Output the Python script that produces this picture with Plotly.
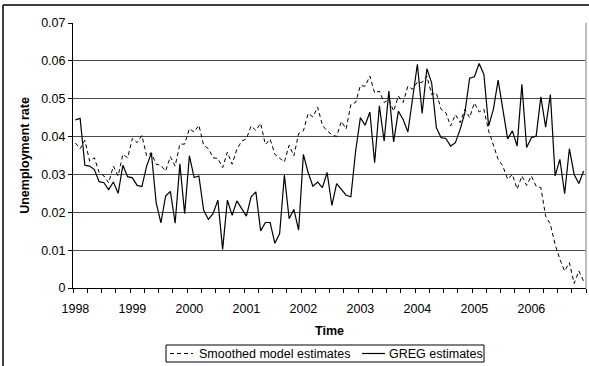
import plotly.graph_objects as go

# Monthly estimates, January 1998 - December 2006
years = [1998, 1999, 2000, 2001, 2002, 2003, 2004, 2005, 2006]
months = list(range(108))

smoothed = [
    0.0383, 0.0368, 0.0390, 0.0335, 0.0344, 0.0305, 0.0296, 0.0278, 0.0322, 0.0296,
    0.0353, 0.0344, 0.0395, 0.0384, 0.0403, 0.0349, 0.0357, 0.0327, 0.0324, 0.0309,
    0.0347, 0.0322, 0.0380, 0.0380, 0.0421, 0.0412, 0.0430, 0.0377, 0.0368, 0.0344,
    0.0342, 0.0318, 0.0359, 0.0327, 0.0366, 0.0388, 0.0394, 0.0428, 0.0416, 0.0435,
    0.0379, 0.0393, 0.0353, 0.0344, 0.0333, 0.0377, 0.0349, 0.0408, 0.0415, 0.0461,
    0.0452, 0.0478, 0.0430, 0.0415, 0.0405, 0.0400, 0.0440, 0.0420, 0.0485, 0.0490,
    0.0535, 0.0533, 0.0560, 0.0515, 0.0520, 0.0490, 0.0498, 0.0467, 0.0507, 0.0490,
    0.0533, 0.0525, 0.0544, 0.0543, 0.0560, 0.0511, 0.0515, 0.0472, 0.0463, 0.0428,
    0.0458, 0.0437, 0.0472, 0.0450, 0.0489, 0.0465, 0.0472, 0.0415, 0.0375, 0.0340,
    0.0322, 0.0287, 0.0300, 0.0261, 0.0296, 0.0271, 0.0296, 0.0269, 0.0265, 0.0190,
    0.0168, 0.0115, 0.0076, 0.0045, 0.0067, 0.0012, 0.0045, 0.0018,
]

greg = [
    0.0444, 0.0448, 0.0324, 0.0322, 0.0313, 0.0281, 0.0278, 0.0260, 0.0280, 0.0250,
    0.0324, 0.0294, 0.0291, 0.0271, 0.0268, 0.0322, 0.0357, 0.0226, 0.0172, 0.0243,
    0.0255, 0.0171, 0.0328, 0.0196, 0.0349, 0.0292, 0.0296, 0.0206, 0.0181, 0.0197,
    0.0232, 0.0102, 0.0232, 0.0192, 0.0230, 0.0210, 0.0190, 0.0241, 0.0254, 0.0151,
    0.0173, 0.0173, 0.0118, 0.0144, 0.0298, 0.0183, 0.0208, 0.0153, 0.0353, 0.0305,
    0.0269, 0.0280, 0.0265, 0.0305, 0.0218, 0.0276, 0.0259, 0.0245, 0.0241, 0.0362,
    0.0450, 0.0430, 0.0465, 0.0331, 0.0481, 0.0388, 0.0520, 0.0386, 0.0467, 0.0445,
    0.0412, 0.0498, 0.0591, 0.0461, 0.0579, 0.0542, 0.0423, 0.0397, 0.0395, 0.0375,
    0.0384, 0.0419, 0.0463, 0.0554, 0.0558, 0.0593, 0.0564, 0.0428, 0.0472, 0.0549,
    0.0472, 0.0394, 0.0415, 0.0375, 0.0538, 0.0371, 0.0397, 0.0401, 0.0505, 0.0425,
    0.0511, 0.0296, 0.0340, 0.0249, 0.0368, 0.0300, 0.0276, 0.0309,
]

series_names = ["Smoothed model estimates", "GREG estimates"]

FONT = "Liberation Sans, Arial, sans-serif"
W, H = 589, 366
ML, MR, MT, MB = 73, 3, 23, 78
PW, PH = W - ML - MR, H - MT - MB
DASH = "4px,3px"


def px(x):
    return (x - ML) / PW


def py(y):
    return (H - MB - y) / PH


fig = go.Figure()
fig.add_trace(go.Scatter(
    x=months, y=smoothed, mode="lines", name=series_names[0], showlegend=False,
    line=dict(color="black", width=1, dash=DASH),
))
fig.add_trace(go.Scatter(
    x=months, y=greg, mode="lines", name=series_names[1], showlegend=False,
    line=dict(color="black", width=1.2),
))

shapes = [
    # right edge of the plot area
    dict(type="line", xref="paper", yref="paper", x0=1, x1=1, y0=0, y1=1,
         line=dict(color="#a8a8a8", width=1.5)),
    # outer chart frame (top and left)
    dict(type="line", xref="paper", yref="paper", x0=px(3), x1=px(W + 5),
         y0=py(5), y1=py(5), line=dict(color="black", width=1.5)),
    dict(type="line", xref="paper", yref="paper", x0=px(3), x1=px(3),
         y0=py(5), y1=py(H + 5), line=dict(color="black", width=1.5)),
    # legend box and line samples
    dict(type="rect", xref="paper", yref="paper", x0=px(166), x1=px(484),
         y0=py(362), y1=py(345), line=dict(color="black", width=1),
         fillcolor="white"),
    dict(type="line", xref="paper", yref="paper", x0=px(170), x1=px(193),
         y0=py(353.5), y1=py(353.5),
         line=dict(color="black", width=1, dash=DASH)),
    dict(type="line", xref="paper", yref="paper", x0=px(362), x1=px(385),
         y0=py(353.5), y1=py(353.5), line=dict(color="black", width=1.2)),
]

annotations = [
    dict(text=series_names[0], xref="paper", yref="paper", x=px(197), y=py(353.5),
         xanchor="left", yanchor="middle", showarrow=False,
         font=dict(family=FONT, size=12.5, color="black")),
    dict(text=series_names[1], xref="paper", yref="paper", x=px(387), y=py(353.5),
         xanchor="left", yanchor="middle", showarrow=False,
         font=dict(family=FONT, size=12.5, color="black")),
]

fig.update_layout(
    width=W, height=H,
    margin=dict(l=ML, r=MR, t=MT, b=MB, pad=0),
    paper_bgcolor="white", plot_bgcolor="white",
    font=dict(family=FONT, size=12.5, color="black"),
    showlegend=False,
    shapes=shapes,
    annotations=annotations,
    xaxis=dict(
        range=[-0.5, 107.5],
        tickvals=[12 * i for i in range(len(years))],
        ticktext=[str(y) for y in years],
        ticks="", ticklabelstandoff=9,
        minor=dict(ticks="outside", tick0=-0.5, dtick=3, ticklen=4,
                   tickcolor="black", tickwidth=1, showgrid=False),
        showgrid=False, zeroline=False,
        showline=True, linecolor="black", linewidth=1,
        title=dict(text="<b>Time</b>", standoff=11,
                   font=dict(family=FONT, size=12.5)),
    ),
    yaxis=dict(
        range=[0, 0.07], dtick=0.01, tick0=0,
        ticks="outside", ticklen=4, tickcolor="black",
        showgrid=True, gridcolor="#4a4a4a", gridwidth=1,
        zeroline=False,
        showline=True, linecolor="black", linewidth=1,
        title=dict(text="<b>Unemployment rate</b>", standoff=8,
                   font=dict(family=FONT, size=12.5)),
    ),
)

fig.write_html("out.html")
